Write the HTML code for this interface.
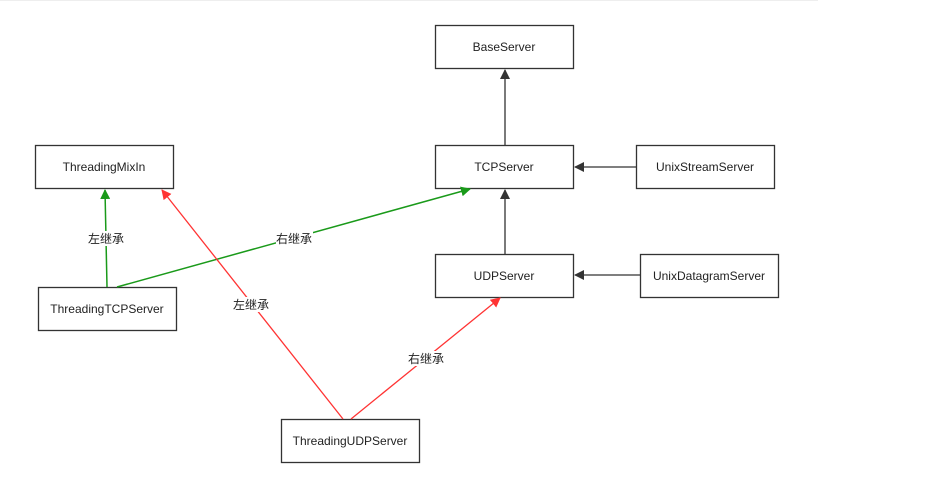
<!DOCTYPE html>
<html><head><meta charset="utf-8"><style>
body{margin:0;background:#fff;}
svg{display:block;}
text{font-family:"Liberation Sans","Noto Sans CJK SC",sans-serif;font-size:12px;fill:#222;}
</style></head><body>
<svg width="926" height="481" viewBox="0 0 926 481">
<defs>
<marker id="ak" markerWidth="10" markerHeight="10" refX="9" refY="5" orient="auto" markerUnits="userSpaceOnUse"><path d="M0,0 L10,5 L0,10 z" fill="#333"/></marker>
<marker id="ag" markerWidth="10" markerHeight="10" refX="9" refY="5" orient="auto" markerUnits="userSpaceOnUse"><path d="M0,0 L10,5 L0,10 z" fill="#1a9a1a"/></marker>
<marker id="ar" markerWidth="10" markerHeight="10" refX="9" refY="5" orient="auto" markerUnits="userSpaceOnUse"><path d="M0,0 L10,5 L0,10 z" fill="#f33"/></marker>
</defs>
<line x1="0" y1="0.5" x2="818" y2="0.5" stroke="#eee" stroke-width="1"/>
<g fill="#fff" stroke="#333" stroke-width="1.3">
<rect x="435.5" y="25.5" width="138" height="43"/>
<rect x="435.5" y="145.5" width="138" height="43"/>
<rect x="435.5" y="254.5" width="138" height="43"/>
<rect x="636.5" y="145.5" width="138" height="43"/>
<rect x="640.5" y="254.5" width="138" height="43"/>
<rect x="35.5" y="145.5" width="138" height="43"/>
<rect x="38.5" y="287.5" width="138" height="43"/>
<rect x="281.5" y="419.5" width="138" height="43"/>
</g>
<g stroke="#333" stroke-width="1.3">
<line x1="505" y1="145" x2="505" y2="70" marker-end="url(#ak)"/>
<line x1="505" y1="254" x2="505" y2="190" marker-end="url(#ak)"/>
<line x1="636" y1="167" x2="575" y2="167" marker-end="url(#ak)"/>
<line x1="640" y1="275" x2="575" y2="275" marker-end="url(#ak)"/>
</g>
<g stroke="#1a9a1a" stroke-width="1.5">
<line x1="107" y1="287" x2="105" y2="190" marker-end="url(#ag)"/>
<line x1="117" y1="287" x2="470" y2="189" marker-end="url(#ag)"/>
</g>
<g stroke="#f33" stroke-width="1.3">
<line x1="343" y1="419" x2="162" y2="190" marker-end="url(#ar)"/>
<line x1="351" y1="419" x2="500" y2="298" marker-end="url(#ar)"/>
</g>
<g fill="#fff">
<rect x="88" y="231" width="37" height="15"/>
<rect x="276" y="231" width="37" height="15"/>
<rect x="233" y="297" width="37" height="15"/>
<rect x="408" y="351" width="37" height="15"/>
</g>
<g text-anchor="middle">
<text x="106" y="243">左继承</text>
<text x="294" y="243">右继承</text>
<text x="251" y="309">左继承</text>
<text x="426" y="363">右继承</text>
<text x="504" y="51">BaseServer</text>
<text x="504" y="171">TCPServer</text>
<text x="504" y="280">UDPServer</text>
<text x="705" y="171">UnixStreamServer</text>
<text x="709" y="280">UnixDatagramServer</text>
<text x="104" y="171">ThreadingMixIn</text>
<text x="107" y="313">ThreadingTCPServer</text>
<text x="350" y="445">ThreadingUDPServer</text>
</g>
</svg>
</body></html>
